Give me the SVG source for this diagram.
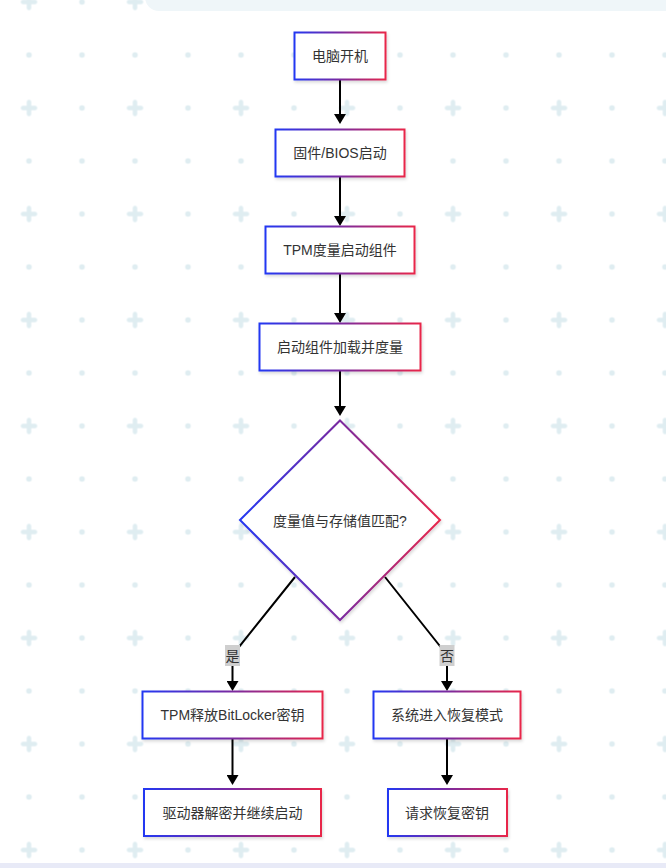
<svg xmlns="http://www.w3.org/2000/svg" width="666" height="868" viewBox="0 0 666 868">
<style>
.node rect,.node polygon{fill:#fff;stroke:url(#grad);stroke-width:2;filter:url(#sh)}
.node text,.lbl text{font-family:"Liberation Sans","Noto Sans CJK SC",sans-serif;font-size:14px;fill:#333;text-anchor:middle;dominant-baseline:central}
.edge{fill:none;stroke:#000;stroke-width:2;marker-end:url(#arr)}
.lbl rect{fill:#cfcfcf}
.bgm{fill:#dfedf1;stroke:#dfedf1}
</style>
<defs>
<linearGradient id="grad" x1="0" y1="0" x2="1" y2="0">
<stop offset="0" stop-color="#2438f2"/>
<stop offset="0.5" stop-color="#7a2aa0"/>
<stop offset="1" stop-color="#e8274a"/>
</linearGradient>
<filter id="sh" x="-10%" y="-10%" width="130%" height="140%">
<feDropShadow dx="1" dy="2" stdDeviation="1.5" flood-color="#000" flood-opacity="0.15"/>
</filter>
<marker id="arr" viewBox="0 0 10 12" markerWidth="10" markerHeight="12" refX="0" refY="6" orient="auto" markerUnits="userSpaceOnUse">
<path d="M0,0 L10,6 L0,12 z" fill="#000"/>
</marker>
<pattern id="bg" patternUnits="userSpaceOnUse" x="2.5" y="-24.5" width="106" height="106">
<path d="M20.5,26.5 H32.5 M26.5,20.5 V32.5" stroke="#dfedf1" stroke-width="4.5" stroke-linecap="round" fill="none"/>
<circle cx="79.5" cy="26.5" r="2.8" fill="#dfedf1"/>
<circle cx="26.5" cy="79.5" r="2.8" fill="#dfedf1"/>
<circle cx="79.5" cy="79.5" r="2.8" fill="#dfedf1"/>
</pattern>
</defs>
<rect x="0" y="0" width="666" height="868" fill="#fff"/>
<rect x="0" y="0" width="666" height="868" fill="url(#bg)"/>
<rect x="145" y="-20" width="540" height="31" rx="14" fill="#eff6f9"/>
<rect x="0" y="863" width="666" height="5" fill="#e8eaf7"/>

<g id="edges">
<path class="edge" d="M340,79 V114"/>
<path class="edge" d="M340,176.5 V216"/>
<path class="edge" d="M340,273.5 V313"/>
<path class="edge" d="M340,370 V406"/>
<path class="edge" d="M295,577 L232.5,655 V681"/>
<path class="edge" d="M385,577 L447,655 V681"/>
<path class="edge" d="M232.5,738.5 V775"/>
<path class="edge" d="M447,738.5 V775"/>
<g class="lbl"><rect x="225" y="645" width="15" height="21"/><text x="232.5" y="656">是</text></g>
<g class="lbl"><rect x="439.5" y="645" width="15" height="21"/><text x="447" y="656">否</text></g>
</g>

<g id="n1" class="node"><rect x="294.5" y="32.5" width="91" height="47"/><text x="340" y="56">电脑开机</text></g>
<g id="n2" class="node"><rect x="275.5" y="129.5" width="129" height="47"/><text x="340" y="153">固件/BIOS启动</text></g>
<g id="n3" class="node"><rect x="265.5" y="226.5" width="149" height="47"/><text x="340" y="250">TPM度量启动组件</text></g>
<g id="n4" class="node"><rect x="259.5" y="323.5" width="161" height="47"/><text x="340" y="347">启动组件加载并度量</text></g>
<g id="d1" class="node"><polygon points="340,420.5 440,520 340,620 240,520"/><text x="340" y="521">度量值与存储值匹配?</text></g>
<g id="n5" class="node"><rect x="142.5" y="691.5" width="180" height="47"/><text x="232.5" y="715">TPM释放BitLocker密钥</text></g>
<g id="n6" class="node"><rect x="373.5" y="691.5" width="147" height="47"/><text x="447" y="715">系统进入恢复模式</text></g>
<g id="n7" class="node"><rect x="144" y="789" width="177" height="47"/><text x="232.5" y="812.5">驱动器解密并继续启动</text></g>
<g id="n8" class="node"><rect x="388" y="789" width="119" height="47"/><text x="447" y="812.5">请求恢复密钥</text></g>
</svg>
